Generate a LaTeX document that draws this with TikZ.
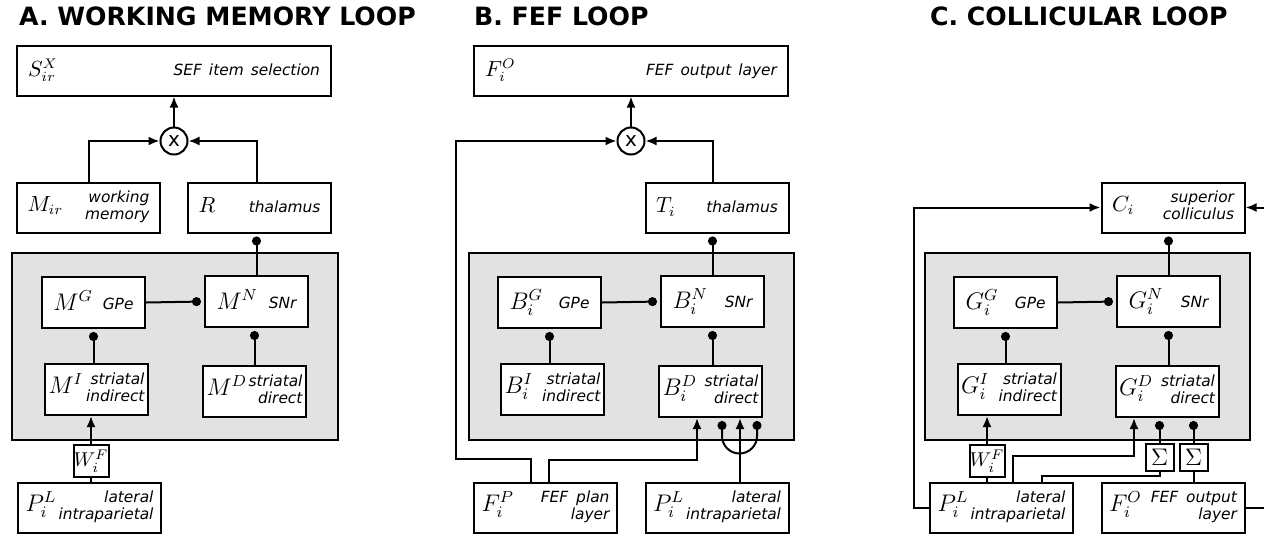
\documentclass[tikz,border=0pt]{standalone}
\usepackage{fontspec}
\setsansfont{DejaVu Sans}
\usetikzlibrary{arrows.meta,calc}

\definecolor{bgpanel}{RGB}{226,226,226}

% region names set in small oblique sans, right aligned
\newcommand{\area}[1]{{\fontsize{7.7}{8.4}\selectfont\sffamily\itshape\begin{tabular}{@{}r@{}}#1\end{tabular}}}

\begin{document}
\begin{tikzpicture}[x=0.5pt,y=-0.5pt,line join=miter,
    box/.style={draw,line width=1pt,fill=white,inner sep=0pt,minimum height=25pt,
        font=\fontsize{10.5}{12}\selectfont},
    wide/.style={box,minimum width=157pt,text width=146pt},
    unit/.style={box,minimum width=71.5pt,text width=61pt},
    input/.style={box,minimum width=71.5pt,text width=64pt,font=\fontsize{12}{14}\selectfont},
    core/.style={box,minimum width=51.5pt,minimum height=25.5pt,text width=40pt,
        font=\fontsize{12}{14}\selectfont},
    striat/.style={core,text width=48pt},
    gain/.style={draw,line width=1pt,fill=white,inner sep=0pt,minimum width=17.5pt,
        minimum height=16pt,font=\fontsize{10}{12}\selectfont},
    sumbox/.style={draw,line width=1pt,fill=white,inner sep=0pt,minimum width=14pt,
        minimum height=13.5pt,font=\fontsize{13}{15}\selectfont},
    mult/.style={circle,draw,line width=1pt,fill=white,inner sep=0pt,minimum size=13.5pt,
        font=\sffamily\fontsize{10}{12}\selectfont},
    panel/.style={draw,line width=1pt,fill=bgpanel},
    wire/.style={line width=1pt},
    exc/.style={wire,-{Latex[length=5.5pt,width=4.5pt]}},
    inh/.style={wire,-{Circle[length=4.5pt]},shorten >=1.5pt},
    title/.style={anchor=base west,font=\sffamily\bfseries\fontsize{12.6}{15}\selectfont}]

    \useasboundingbox (0,0) rectangle (1264,536);

    % ---- A. working memory loop
    \node[title] (ta) at (12,25) {A. WORKING MEMORY LOOP};
    \draw[panel] (12,253) rectangle (338,440);

    \node[wide] (sx) at (174,70.5) {$S^X_{ir}$\hfill\area{SEF item selection}};
    \node[mult] (multA) at (174,141) {x};
    \node[unit] (mir) at (88.5,207.5) {$M_{ir}$\hfill\area{working\\memory}};
    \node[unit] (thR) at (259.5,207.5) {$R$\hfill\area{thalamus}};
    \node[core] (mg) at (93.5,302.5) {$M^G$\hfill\area{GPe}};
    \node[core] (mn) at (256.5,301.5) {$M^N$\hfill\area{SNr}};
    \node[striat] (mi) at (96.5,389.5) {$M^I$\hfill\area{striatal\\indirect}};
    \node[striat] (md) at (254.5,391.5) {$M^D$\hfill\area{striatal\\direct}};
    \node[gain] (wA) at (91,461) {$W^F_i$};
    \node[input] (plA) at (89.5,507.5) {$P^L_i$\hfill\area{lateral\\intraparietal}};

    \draw[exc] (multA.north) -- (sx.south);
    \draw[exc] (mir.north) |- (multA.west);
    \draw[exc] (mn.north |- thR.north) |- (multA.east);
    \draw[inh] (mn.north) -- (mn.north |- thR.south);
    \draw[inh] (mg.east) -- (mn.west);
    \draw[inh] (mg.south |- mi.north) -- (mg.south);
    \draw[inh] (md.north) -- (md.north |- mn.south);
    \draw[wire] (plA.north -| wA) -- (wA.south);
    \draw[exc] (wA.north) -- (wA.north |- mi.south);

    % ---- B. FEF loop
    \node[title] (tb) at (467,25) {B. FEF LOOP};
    \draw[panel] (469,253) rectangle (794,440);

    \node[wide] (fo) at (631,70.5) {$F^O_i$\hfill\area{FEF output layer}};
    \node[mult] (multB) at (631,141) {x};
    \node[unit] (ti) at (717,207.5) {$T_i$\hfill\area{thalamus}};
    \node[core] (bg) at (549.5,302.5) {$B^G_i$\hfill\area{GPe}};
    \node[core] (bn) at (712.5,301.5) {$B^N_i$\hfill\area{SNr}};
    \node[striat] (bi) at (552.5,389.5) {$B^I_i$\hfill\area{striatal\\indirect}};
    \node[striat] (bd) at (710.5,391.5) {$B^D_i$\hfill\area{striatal\\direct}};
    \node[input] (fp) at (545.5,507.5) {$F^P_i$\hfill\area{FEF plan\\layer}};
    \node[input] (plB) at (717,507.5) {$P^L_i$\hfill\area{lateral\\intraparietal}};

    \draw[exc] (multB.north) -- (fo.south);
    \draw[exc] (bn.north |- ti.north) |- (multB.east);
    \draw[inh] (bn.north) -- (bn.north |- ti.south);
    \draw[inh] (bg.east) -- (bn.west);
    \draw[inh] (bg.south |- bi.north) -- (bg.south);
    \draw[inh] (bn.south |- bd.north) -- (bn.south);
    \draw[exc] ($(fp.north)+(-14.5,0)$) -- ++(0,-23) -| ($(multB.west)+(-160.5,0)$) -- (multB.west);
    \draw[exc] ($(fp.north)+(3.5,0)$) -- ++(0,-22) -| ($(bd.south)+(-13.5,0)$);
    \coordinate (plt) at ($(plB.north)+(23,0)$);
    \draw[exc] (plt) -- (plt |- bd.south);
    \draw[wire,{Circle[length=4.5pt]}-{Circle[length=4.5pt]},shorten <=1.5pt,shorten >=1.5pt]
        ($(bd.south)+(11.5,0)$) -- ++(0,18) arc[start angle=180,end angle=0,radius=17.5] -- ++(0,-18);

    % ---- C. collicular loop
    \node[title] (tc) at (923,25) {C. COLLICULAR LOOP};
    \draw[panel] (925,253) rectangle (1250,440);

    \node[unit] (cc) at (1173,207.5) {$C_i$\hfill\area{superior\\colliculus}};
    \node[core] (gg) at (1005.5,302.5) {$G^G_i$\hfill\area{GPe}};
    \node[core] (gn) at (1168.5,301.5) {$G^N_i$\hfill\area{SNr}};
    \node[striat] (gi) at (1009,389.5) {$G^I_i$\hfill\area{striatal\\indirect}};
    \node[striat] (gd) at (1167,391.5) {$G^D_i$\hfill\area{striatal\\direct}};
    \node[gain] (wC) at (987,461) {$W^F_i$};
    \node[sumbox] (s1) at (1159.5,457.5) {$\Sigma$};
    \node[sumbox] (s2) at (1193.5,457.5) {$\Sigma$};
    \node[input] (plC) at (1001.5,507.5) {$P^L_i$\hfill\area{lateral\\intraparietal}};
    \node[input] (foC) at (1173,507.5) {$F^O_i$\hfill\area{FEF output\\layer}};

    \draw[exc] (plC.west) -| ($(cc.west)+(-187,0)$) -- (cc.west);
    \draw[exc] (foC.east) -| ($(cc.east)+(40,0)$) -- (cc.east);
    \draw[inh] (gn.north) -- (gn.north |- cc.south);
    \draw[inh] (gg.east) -- (gn.west);
    \draw[inh] (gg.south |- gi.north) -- (gg.south);
    \draw[inh] (gn.south |- gd.north) -- (gn.south);
    \draw[wire] (plC.north -| wC) -- (wC.south);
    \draw[exc] (wC.north) -- (wC.north |- gi.south);
    \draw[exc] ($(plC.north)+(11.5,0)$) -- ++(0,-26) -| ($(gd.south)+(-33,0)$);
    \draw[wire] ($(plC.north)+(40.5,0)$) -- ++(0,-6) -| (s1.south);
    \draw[inh] (s1.north) -- (s1.north |- gd.south);
    \draw[wire] (foC.north -| s2) -- (s2.south);
    \draw[inh] (s2.north) -- (s2.north |- gd.south);
\end{tikzpicture}
\end{document}
